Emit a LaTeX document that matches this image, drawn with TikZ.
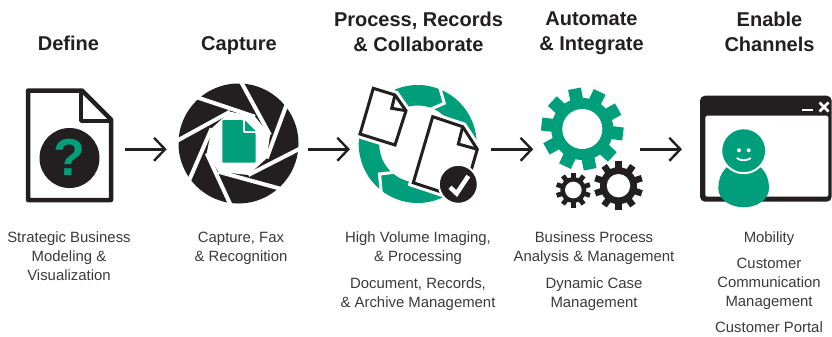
\documentclass[tikz,border=0pt]{standalone}
\usepackage{fontspec}
\setmainfont{Liberation Sans}
\usetikzlibrary{arrows.meta}
\definecolor{icongreen}{HTML}{009E7B}
\definecolor{iconblack}{HTML}{231F20}
\definecolor{labelgray}{HTML}{3A3A3C}

\begin{document}
\begin{tikzpicture}[x=1pt, y=-1pt,
    heading/.style={font=\fontsize{20}{25}\selectfont\bfseries, align=center, text=iconblack, inner sep=0pt, anchor=north},
    label/.style={font=\fontsize{14.9}{19}\selectfont, align=center, text=labelgray, inner sep=0pt, anchor=north},
    slot/.style={minimum height=10pt, inner sep=0pt, outer sep=0pt},
    flow/.style={-{Straight Barb[length=11pt, width=23pt, line width=2.4pt]}, line width=2.4pt, iconblack},
    page/.style={draw=iconblack, fill=white, line width=3pt, line join=miter, preaction={draw=white, line width=9pt}},
  ]
  \useasboundingbox (0,0) rectangle (832,337);

  % headings
  \node[heading] (hdefine) at (68.5,36) {Define};
  \node[heading] (hcapture) at (239,36) {Capture};
  \node[heading] (hprocess) at (418.5,11.5) {Process, Records\\\& Collaborate};
  \node[heading] (hautomate) at (591.5,11.5) {Automate\\\& Integrate};
  \node[heading] (hchannels) at (769.5,11.5) {Enable\\Channels};

  % define
  \draw[iconblack, line width=4.5pt, line join=round, fill=white] (28,90.5) -- (82,90.5) -- (111,119.5) -- (111,200) -- (28,200) -- cycle;
  \draw[iconblack, line width=3.5pt, line join=round] (81,91) -- (81,121) -- (111,121);
  \fill[iconblack] (69.5,158) circle (30);
  \node[text=icongreen, font=\fontsize{52}{52}\selectfont\bfseries, inner sep=0pt] (qmark) at (69.5,157) {?};

  % capture
  \fill[iconblack] (238.5,143.5) circle (60);
  \foreach \xa/\ya/\xb/\yb in {239/78/270/135, 289/98/266.7/158.3, 305/146/248.3/175, 285/190/218.3/171.7,
      232/208/206.7/153.3, 188/183/211.7/128.3, 173/143/230/111.7, 193/96/255/116.7} {
    \draw[white, line width=4pt] (\xa,\ya) -- (\xb,\yb);
  }
  \fill[white] (270,135) -- (266.7,158.3) -- (248.3,175) -- (218.3,171.7) -- (206.7,153.3) -- (211.7,128.3) -- (230,111.7) -- (255,116.7) -- cycle;
  \fill[icongreen, rounded corners=1pt] (222.3,120) -- (243,120) -- (243,133) -- (255.7,133) -- (255.7,162.7) -- (222.3,162.7) -- cycle;
  \fill[icongreen] (245,120.5) -- (255.7,131) -- (245,131) -- cycle;

  % process
  \fill[icongreen, even odd rule] (417.7,144) circle (59) (417.7,144) circle (38.5);
  \draw[white, line width=3pt] (437.5,80) -- (444.3,103.3) -- (430,109.5);
  \draw[white, line width=3pt] (393,172.5) -- (379.5,174) -- (381.5,195);
  \draw[page] (373.3,88.3) -- (395,95) -- (406,110.7) -- (395,145) -- (360,134) -- cycle;
  \draw[iconblack, line width=3pt] (395,95) -- (391.7,108.3) -- (406,110.7);
  \draw[page] (432.7,116.7) -- (462.7,126.7) -- (477.3,149.3) -- (462.7,199.1) -- (413.3,182.7) -- cycle;
  \draw[iconblack, line width=3pt] (462.7,126.7) -- (458.3,144) -- (477.3,149.3);
  \draw[white, fill=iconblack, line width=2pt] (458.3,184.3) circle (19.5);
  \draw[white, line width=4.5pt] (450,187.3) -- (456.7,193.5) -- (468.3,176);

  % automate
  \foreach \x/\y/\ro/\ri/\rh/\w/\n/\o/\c in {582.3/129/41/31/20/13/10/-101/icongreen,
      573.3/190/17.5/13/8.3/4.8/10/-90/iconblack, 618.5/185.7/24.5/18.5/11.7/6.5/10/-90/iconblack} {
    \fill[\c] (\x,\y) circle (\ri);
    \foreach \k in {1,...,\n} {
      \pgfmathsetmacro\a{\o+36*\k}
      \draw[\c, line width=\w pt] (\x,\y) ++(\a:\ri-2) -- ++(\a:\ro-\ri+2);
    }
    \fill[white] (\x,\y) circle (\rh);
  }

  % channels
  \fill[iconblack, rounded corners=5pt] (700,95.7) rectangle (831.7,201.7);
  \fill[white, rounded corners=1.5pt] (705.3,115.7) rectangle (828.3,196.7);
  \draw[white, line width=2.4pt] (802.3,110) -- (813.3,110);
  \draw[white, line width=2.6pt] (819.5,102.5) -- (828.5,111.5) (828.5,102.5) -- (819.5,111.5);
  \fill[icongreen] (726.7,167.3) .. controls (720,174) and (718.3,181) .. (718.3,188.3) .. controls (718.3,200) and (731,207.3) .. (743.7,207.3)
    .. controls (756.4,207.3) and (769,200) .. (769,188.3) .. controls (769,181) and (767.4,174) .. (760.7,167.3) -- cycle;
  \draw[white, fill=icongreen, line width=2pt] (743.7,150.7) circle (22.5);
  \fill[white] (739,150.3) circle (2) (748.7,150.3) circle (2);
  \draw[white, line width=1.8pt] (736.7,158) .. controls (740,161) and (747.4,161) .. (750.7,158);

  % connectors
  \node[slot, minimum width=111pt] (define) at (69.5,149.3) {};
  \node[slot, minimum width=141.6pt] (capture) at (237.5,149.3) {};
  \node[slot, minimum width=141pt] (process) at (420.5,149.3) {};
  \node[slot, minimum width=106.7pt] (automate) at (586.6,149.3) {};
  \node[slot, minimum width=150pt] (channels) at (757,149.3) {};
  \foreach \p/\q in {define/capture, capture/process, process/automate, automate/channels} {
    \draw[flow] (\p) -- (\q);
  }

  % labels
  \node[label] (ldefine) at (69,232) {Strategic Business\\Modeling \&\\Visualization};
  \node[label] (lcapture) at (241,232) {Capture, Fax\\\& Recognition};
  \node[label] (lprocessa) at (418,232) {High Volume Imaging,\\\& Processing};
  \node[label] (lprocessb) at (418,277) {Document, Records,\\\& Archive Management};
  \node[label] (lautomatea) at (594,232) {Business Process\\Analysis \& Management};
  \node[label] (lautomateb) at (594,277) {Dynamic Case\\Management};
  \node[label] (lchannelsa) at (769,232) {Mobility};
  \node[label] (lchannelsb) at (769,258) {Customer\\Communication\\Management};
  \node[label] (lchannelsc) at (769,321.5) {Customer Portal};
\end{tikzpicture}
\end{document}
